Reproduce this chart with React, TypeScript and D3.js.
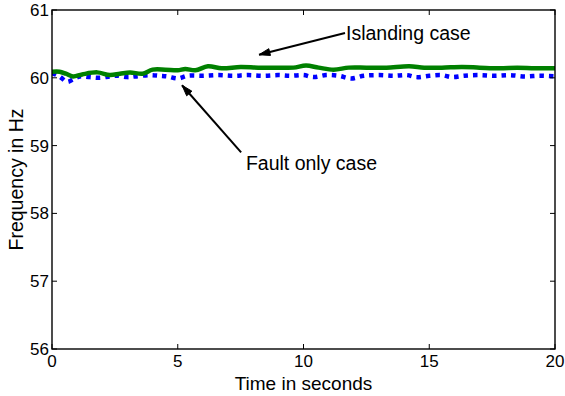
import React from "react";
import * as d3 from "d3";

const greenT = [0, 0.3, 0.55, 0.83, 1.2, 1.8, 2.3, 2.7, 3.1, 3.6, 4.0, 4.5, 5.0, 5.3, 5.7, 6.2, 6.75, 7.5, 8.2, 9, 9.6, 10.1, 10.6, 11.2, 11.8, 12.5, 13.3, 14.2, 14.8, 15.5, 16.3, 17, 17.8, 18.5, 19.2, 20];
const greenV = [60.09, 60.09, 60.06, 60.02, 60.05, 60.08, 60.04, 60.06, 60.08, 60.06, 60.12, 60.12, 60.11, 60.13, 60.11, 60.17, 60.14, 60.16, 60.15, 60.15, 60.15, 60.18, 60.15, 60.12, 60.15, 60.15, 60.15, 60.17, 60.15, 60.15, 60.16, 60.15, 60.14, 60.15, 60.14, 60.14];

const blueT = [0, 0.3, 0.6, 0.85, 1.1, 1.5, 1.9, 2.3, 2.6, 3.0, 3.3, 3.9, 4.3, 4.6, 5.0, 5.4, 6, 6.6, 7.2, 7.8, 8.4, 9, 9.5, 10, 10.4, 10.9, 11.4, 11.9, 12.4, 13, 13.6, 14.1, 14.5, 15, 15.5, 15.9, 16.4, 17, 17.6, 18.2, 18.8, 19.4, 20];
const blueV = [60.07, 60.02, 59.94, 59.98, 60.02, 60.01, 60.0, 60.02, 60.03, 60.01, 60.02, 60.04, 60.03, 60.02, 59.99, 60.03, 60.03, 60.04, 60.03, 60.04, 60.03, 60.04, 60.03, 60.04, 60.01, 60.04, 60.03, 59.99, 60.03, 60.04, 60.03, 60.04, 60.01, 60.03, 60.04, 60.01, 60.03, 60.04, 60.03, 60.04, 60.02, 60.03, 60.02];

const xTicks = [0, 5, 10, 15, 20];
const yTicks = [56, 57, 58, 59, 60, 61];

const xLabel = "Time in seconds";
const yLabel = "Frequency in Hz";

const annotations = [
  { text: "Islanding case", tx: 11.69, ty: 60.56, from: [11.65, 60.66], to: [8.23, 60.34] },
  { text: "Fault only case", tx: 7.71, ty: 58.64, from: [7.52, 58.9], to: [5.17, 59.89] },
];

const W = 565, H = 396;
const M = { left: 52, right: 555, top: 10, bottom: 349 };
const FONT = "'Liberation Sans', Arial, Helvetica, sans-serif";

export default function App() {
  const x = d3.scaleLinear().domain([0, 20]).range([M.left, M.right]);
  const y = d3.scaleLinear().domain([56, 61]).range([M.bottom, M.top]);

  const line = d3
    .line<[number, number]>()
    .x((d) => x(d[0]))
    .y((d) => y(d[1]))
    .curve(d3.curveCatmullRom.alpha(0.5));

  const green = greenT.map((t, i) => [t, greenV[i]] as [number, number]);
  const blue = blueT.map((t, i) => [t, blueV[i]] as [number, number]);

  const arrowHead = (fx: number, fy: number, tx: number, ty: number) => {
    const ang = Math.atan2(ty - fy, tx - fx);
    const len = 11, half = 3.5;
    const bx = tx - len * Math.cos(ang), by = ty - len * Math.sin(ang);
    const px = -Math.sin(ang) * half, py = Math.cos(ang) * half;
    return `M${tx},${ty}L${bx + px},${by + py}L${bx - px},${by - py}Z`;
  };

  const tickLen = 5;

  return (
    <svg
      width={W}
      height={H}
      style={{ position: "absolute", left: 0, top: 0, background: "#fff" }}
      fontFamily={FONT}
    >
      <defs>
        <clipPath id="plotclip">
          <rect x={M.left} y={M.top} width={M.right - M.left} height={M.bottom - M.top} />
        </clipPath>
      </defs>
      <rect x={0} y={0} width={W} height={H} fill="#fff" />

      <g clipPath="url(#plotclip)">
        <path d={line(blue) || ""} fill="none" stroke="#0000ff" strokeWidth={4.5} strokeDasharray="4.5,5" />
        <path d={line(green) || ""} fill="none" stroke="#008000" strokeWidth={4.5} strokeLinejoin="round" />
      </g>

      {/* frame */}
      <rect
        x={M.left}
        y={M.top}
        width={M.right - M.left}
        height={M.bottom - M.top}
        fill="none"
        stroke="#000"
        strokeWidth={1.4}
      />

      {/* x ticks */}
      {xTicks.map((t) => (
        <g key={"x" + t}>
          <line x1={x(t)} x2={x(t)} y1={M.bottom} y2={M.bottom - tickLen} stroke="#000" strokeWidth={1} />
          <line x1={x(t)} x2={x(t)} y1={M.top} y2={M.top + tickLen} stroke="#000" strokeWidth={1} />
          <text x={x(t)} y={M.bottom + 18} fontSize={17} textAnchor="middle" fill="#000">
            {t}
          </text>
        </g>
      ))}

      {/* y ticks */}
      {yTicks.map((v) => (
        <g key={"y" + v}>
          <line x1={M.left} x2={M.left + tickLen} y1={y(v)} y2={y(v)} stroke="#000" strokeWidth={1} />
          <line x1={M.right} x2={M.right - tickLen} y1={y(v)} y2={y(v)} stroke="#000" strokeWidth={1} />
          <text x={M.left - 3} y={y(v) + 6} fontSize={17} textAnchor="end" fill="#000">
            {v}
          </text>
        </g>
      ))}

      <text x={(M.left + M.right) / 2} y={390} fontSize={19} textAnchor="middle" fill="#000">
        {xLabel}
      </text>
      <text
        transform={`translate(23,${(M.top + M.bottom) / 2}) rotate(-90)`}
        fontSize={19.5}
        textAnchor="middle"
        fill="#000"
      >
        {yLabel}
      </text>

      {annotations.map((a) => {
        const fx = x(a.from[0]), fy = y(a.from[1]);
        const tx = x(a.to[0]), ty = y(a.to[1]);
        return (
          <g key={a.text}>
            <line x1={fx} y1={fy} x2={tx} y2={ty} stroke="#000" strokeWidth={2} />
            <path d={arrowHead(fx, fy, tx, ty)} fill="#000" stroke="#000" strokeWidth={1} />
            <text x={x(a.tx)} y={y(a.ty)} fontSize={19.5} fill="#000">
              {a.text}
            </text>
          </g>
        );
      })}
    </svg>
  );
}
